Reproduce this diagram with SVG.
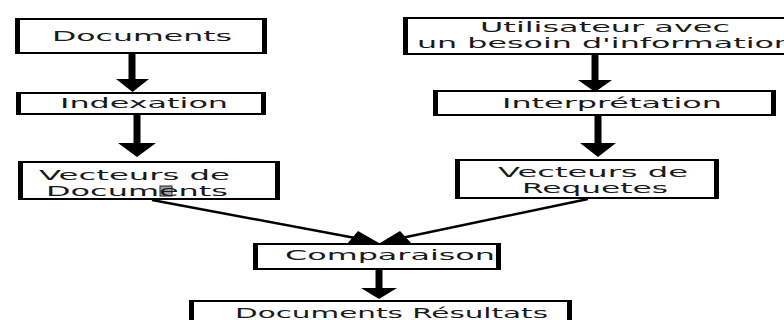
<svg xmlns="http://www.w3.org/2000/svg" width="784" height="320" viewBox="0 0 784 320">
<style>
.bg{fill:#ffffff}
.box{fill:#ffffff;stroke:#000000;stroke-width:2}
.side{fill:none;stroke:#000000;stroke-width:5}
.t{font-family:"DejaVu Sans","Liberation Sans",sans-serif;font-size:14.5px;fill:#1a1a1a;text-anchor:middle}
.t2{font-size:13.5px}
.ts{text-anchor:start}
.shaft{stroke:#000000;stroke-width:7;fill:none}
.line{stroke:#000000;stroke-width:2.5;fill:none}
.head{fill:#000000}
</style>
<rect class="bg" x="0" y="0" width="784" height="320"/>
<g id="connectors">
<path class="shaft" d="M132 54 V81"/>
<polygon class="head" points="116,79 149,79 132.5,92"/>
<path class="shaft" d="M137 115 V145"/>
<polygon class="head" points="118,143 156,143 137,157"/>
<path class="shaft" d="M595 55 V82"/>
<polygon class="head" points="578,80 612,80 595,92"/>
<path class="shaft" d="M598 116 V145"/>
<polygon class="head" points="580,143 616,143 598,157"/>
<path class="line" d="M152 200 L366 240"/>
<polygon class="head" points="347,244 358,231 379,243"/>
<path class="line" d="M588 199 L392 240"/>
<polygon class="head" points="400,231 412,244 380,243"/>
<path class="shaft" d="M379 270 V290"/>
<polygon class="head" points="361,288 397,288 379,299"/>
</g>
<g id="documents">
<rect class="box" x="16" y="19" width="250" height="34"/>
<path class="side" d="M17.5 18 V54 M264.5 18 V54"/>
<text class="t" x="142" y="41" textLength="180" lengthAdjust="spacingAndGlyphs">Documents</text>
</g>
<g id="indexation">
<rect class="box" x="17" y="93" width="248" height="21"/>
<path class="side" d="M18.5 92 V115 M263.5 92 V115"/>
<text class="t" x="144" y="108" textLength="168" lengthAdjust="spacingAndGlyphs">Indexation</text>
</g>
<g id="vecteurs-documents">
<rect class="box" x="19" y="162" width="260" height="37"/>
<path class="side" d="M20.5 161 V200 M277.5 161 V200"/>
<rect x="160" y="186" width="12" height="10" fill="#a0a0a0" stroke="#222222" stroke-width="1"/>
<text class="t t2" x="134.5" y="180" textLength="191" lengthAdjust="spacingAndGlyphs">Vecteurs de</text>
<text class="t t2" x="137" y="196" textLength="182" lengthAdjust="spacingAndGlyphs">Documents</text>
</g>
<g id="utilisateur">
<rect class="box" x="404" y="18" width="407" height="36"/>
<path class="side" d="M405.5 17 V55 M809.5 17 V55"/>
<text class="t t2" x="605" y="32" textLength="250" lengthAdjust="spacingAndGlyphs">Utilisateur avec</text>
<text class="t t2 ts" x="417" y="48" textLength="377" lengthAdjust="spacingAndGlyphs">un besoin d'information</text>
</g>
<g id="interpretation">
<rect class="box" x="434" y="91" width="341" height="24"/>
<path class="side" d="M435.5 90 V116 M773.5 90 V116"/>
<text class="t" x="612" y="108" textLength="220" lengthAdjust="spacingAndGlyphs">Interprétation</text>
</g>
<g id="vecteurs-requetes">
<rect class="box" x="456" y="160" width="262" height="38"/>
<path class="side" d="M457.5 159 V199 M716.5 159 V199"/>
<text class="t t2" x="593" y="177" textLength="190" lengthAdjust="spacingAndGlyphs">Vecteurs de</text>
<text class="t t2" x="595" y="193" textLength="146" lengthAdjust="spacingAndGlyphs">Requetes</text>
</g>
<g id="comparaison">
<rect class="box" x="254" y="244" width="246" height="25"/>
<path class="side" d="M255.5 243 V270 M498.5 243 V270"/>
<text class="t" x="390" y="260" textLength="210" lengthAdjust="spacingAndGlyphs">Comparaison</text>
</g>
<g id="documents-resultats">
<rect class="box" x="190" y="301" width="381" height="30"/>
<path class="side" d="M191.5 300 V322 M569.5 300 V322"/>
<text class="t ts" x="235" y="318" textLength="313" lengthAdjust="spacingAndGlyphs">Documents Résultats</text>
</g>
</svg>
